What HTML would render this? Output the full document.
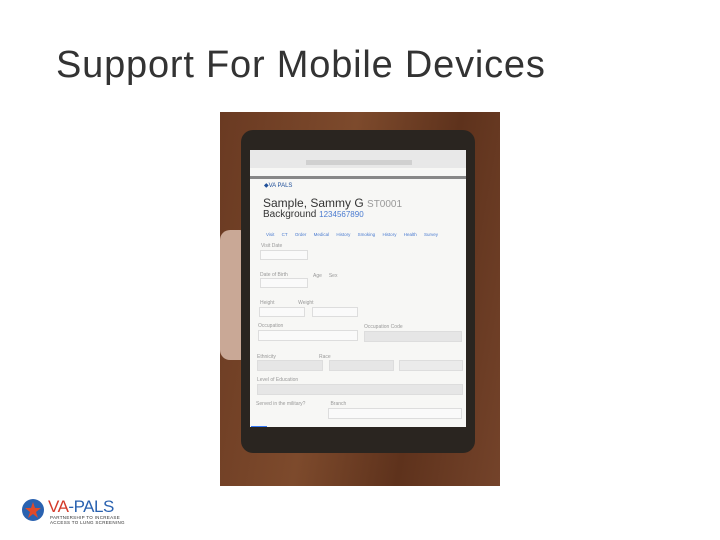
<!DOCTYPE html>
<html><head><style>
body{margin:0;width:720px;height:540px;background:#fff;position:relative;overflow:hidden;font-family:"Liberation Sans",sans-serif}
.a{position:absolute}
.t{font-size:5px;color:#999}
.in{position:absolute;border:1px solid #ddd;background:#fafafa}
</style></head><body>
<div class="a" style="left:56px;top:44px;font-size:38px;color:#333;font-weight:300;letter-spacing:0.8px">Support For Mobile Devices</div>
<div class="a" style="left:220px;top:112px;width:280px;height:374px;background:linear-gradient(100deg,#6a3a22,#7d4a2c 40%,#5e321c 70%,#74432a)"></div>
<div class="a" style="left:220px;top:230px;width:30px;height:130px;background:#c9a896;border-radius:10px"></div>
<div class="a" style="left:241px;top:130px;width:234px;height:323px;background:#2a2520;border-radius:12px"></div>
<div class="a" style="left:250px;top:150px;width:216px;height:277px;background:#f7f7f5"></div>
<div class="a" style="left:250px;top:150px;width:216px;height:18px;background:#e8e8e8"></div>
<div class="a" style="left:306px;top:160px;width:106px;height:5px;background:#d0d0d0"></div>
<div class="a" style="left:250px;top:176px;width:216px;height:3px;background:#888"></div>
<div class="a" style="left:264px;top:182px;font-size:6px;color:#1f4f99">◆VA PALS</div>
<div class="a" style="left:263px;top:196px;font-size:12px;color:#333">Sample, Sammy G <span style="color:#999;font-size:10px">ST0001</span></div>
<div class="a" style="left:263px;top:209px;font-size:10px;color:#333">Background <span style="color:#4a7bd0;font-size:8px">1234567890</span></div>
<div class="a" style="left:266px;top:232px;font-size:4.5px;color:#4a7bd0;word-spacing:6px;white-space:nowrap">Visit CT&nbsp;Order Medical&nbsp;History Smoking&nbsp;History Health&nbsp;Survey</div>
<div class="a t" style="left:261px;top:243px">Visit Date</div>
<div class="in" style="left:260px;top:250px;width:46px;height:8px"></div>
<div class="a t" style="left:260px;top:272px">Date of Birth</div>
<div class="in" style="left:260px;top:278px;width:46px;height:8px"></div>
<div class="a t" style="left:313px;top:273px">Age &nbsp;&nbsp;&nbsp; Sex</div>
<div class="a t" style="left:260px;top:300px">Height &nbsp;&nbsp;&nbsp;&nbsp;&nbsp;&nbsp;&nbsp;&nbsp;&nbsp;&nbsp;&nbsp;&nbsp;&nbsp;&nbsp;&nbsp; Weight</div>
<div class="in" style="left:259px;top:307px;width:44px;height:8px"></div>
<div class="in" style="left:312px;top:307px;width:44px;height:8px"></div>
<div class="a t" style="left:258px;top:323px">Occupation</div>
<div class="a t" style="left:364px;top:324px">Occupation Code</div>
<div class="in" style="left:258px;top:330px;width:98px;height:9px"></div>
<div class="in" style="left:364px;top:331px;width:96px;height:9px;background:#e6e6e6"></div>
<div class="a t" style="left:257px;top:354px">Ethnicity &nbsp;&nbsp;&nbsp;&nbsp;&nbsp;&nbsp;&nbsp;&nbsp;&nbsp;&nbsp;&nbsp;&nbsp;&nbsp;&nbsp;&nbsp;&nbsp;&nbsp;&nbsp;&nbsp;&nbsp;&nbsp;&nbsp;&nbsp;&nbsp;&nbsp;&nbsp;&nbsp;&nbsp;&nbsp; Race</div>
<div class="in" style="left:257px;top:360px;width:64px;height:9px;background:#e6e6e6"></div>
<div class="in" style="left:329px;top:360px;width:63px;height:9px;background:#e6e6e6"></div>
<div class="in" style="left:399px;top:360px;width:62px;height:9px;background:#ebebeb"></div>
<div class="a t" style="left:257px;top:377px">Level of Education</div>
<div class="in" style="left:257px;top:384px;width:204px;height:9px;background:#e6e6e6"></div>
<div class="a t" style="left:256px;top:401px">Served in the military? &nbsp;&nbsp;&nbsp;&nbsp;&nbsp;&nbsp;&nbsp;&nbsp;&nbsp;&nbsp;&nbsp;&nbsp;&nbsp;&nbsp;&nbsp;&nbsp; Branch</div>
<div class="in" style="left:328px;top:408px;width:132px;height:9px"></div>
<div class="a" style="left:251px;top:426px;width:16px;height:1px;background:#3478f6"></div>
<svg class="a" style="left:20px;top:497px" width="26" height="26"><circle cx="13" cy="13" r="11" fill="#2a62b0"/><polygon points="13,5 15,11 21,11 16,15 18,21 13,17 8,21 10,15 5,11 11,11" fill="#e04a2a"/></svg>
<div class="a" style="left:48px;top:497px;font-size:17px;color:#d43a2a;letter-spacing:-0.5px">VA<span style="color:#2a62b0">-PALS</span></div>
<div class="a" style="left:50px;top:515px;font-size:4.5px;color:#333;line-height:5px;letter-spacing:0.3px">PARTNERSHIP TO INCREASE<br>ACCESS TO LUNG SCREENING</div>
</body></html>
